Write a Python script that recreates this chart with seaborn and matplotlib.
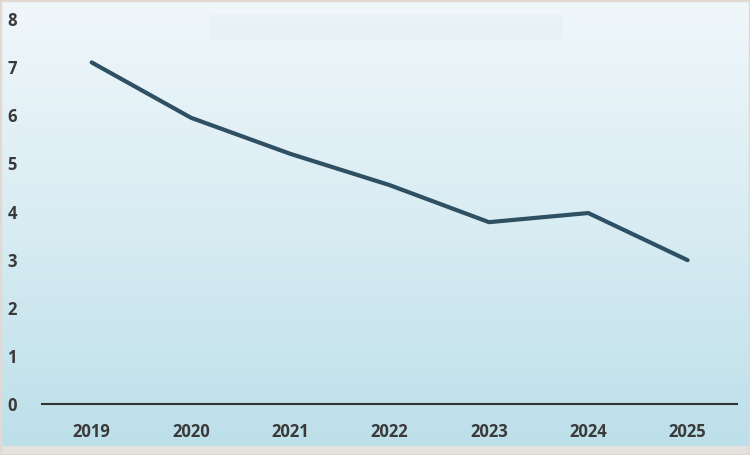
import seaborn as sns
import matplotlib.pyplot as plt
import pandas as pd
import numpy as np

# data
years = ["2019", "2020", "2021", "2022", "2023", "2024", "2025"]
values = [7.1, 5.95, 5.2, 4.55, 3.78, 3.97, 2.99]

df = pd.DataFrame({"year": years, "value": values})

sns.set_style("white")
plt.rcParams["font.family"] = ["Open Sans", "DejaVu Sans"]

fig = plt.figure(figsize=(7.5, 4.55), dpi=100)

# gradient background over the whole figure
bg = fig.add_axes([0, 0, 1, 1], zorder=0)
grad = np.linspace(0, 1, 256).reshape(-1, 1)
cmap = sns.blend_palette(["#f0f7fa", "#d8ecf3", "#bcdfe9"], as_cmap=True)
bg.imshow(grad, aspect="auto", cmap=cmap, extent=[0, 1, 0, 1], origin="upper")
bg.add_patch(plt.Rectangle((0.28, 0.91), 0.47, 0.06, color="#dcecf3", alpha=0.3, lw=0))
bg.add_patch(plt.Rectangle((0, 0), 1, 0.02, color="#f5e4d8", alpha=0.7, lw=0))
bg.add_patch(plt.Rectangle((0, 0), 1, 1, fill=False, ec="#e2d9d2", lw=2.5))
bg.set_axis_off()
bg.set_xlim(0, 1)
bg.set_ylim(0, 1)

ax = fig.add_axes([0.056, 0.112, 0.927, 0.846], zorder=1)
ax.patch.set_alpha(0)

sns.lineplot(data=df, x="year", y="value", ax=ax, color="#2e5062", lw=3, sort=False)

ax.set_ylim(0, 8)
ax.set_xlim(-0.5, 6.5)
ax.set_yticks(range(0, 9))
ax.set_xlabel("")
ax.set_ylabel("")
for s in ["top", "right", "left"]:
    ax.spines[s].set_visible(False)
ax.spines["bottom"].set_color("#333333")
ax.spines["bottom"].set_linewidth(1.5)
ax.tick_params(axis="y", length=0, pad=18, labelsize=12, labelcolor="#3a3a3a")
ax.tick_params(axis="x", length=0, pad=14, labelsize=12, labelcolor="#3a3a3a")
for t in ax.get_xticklabels() + ax.get_yticklabels():
    t.set_fontweight("bold")

fig.savefig("out.png", dpi=100)
